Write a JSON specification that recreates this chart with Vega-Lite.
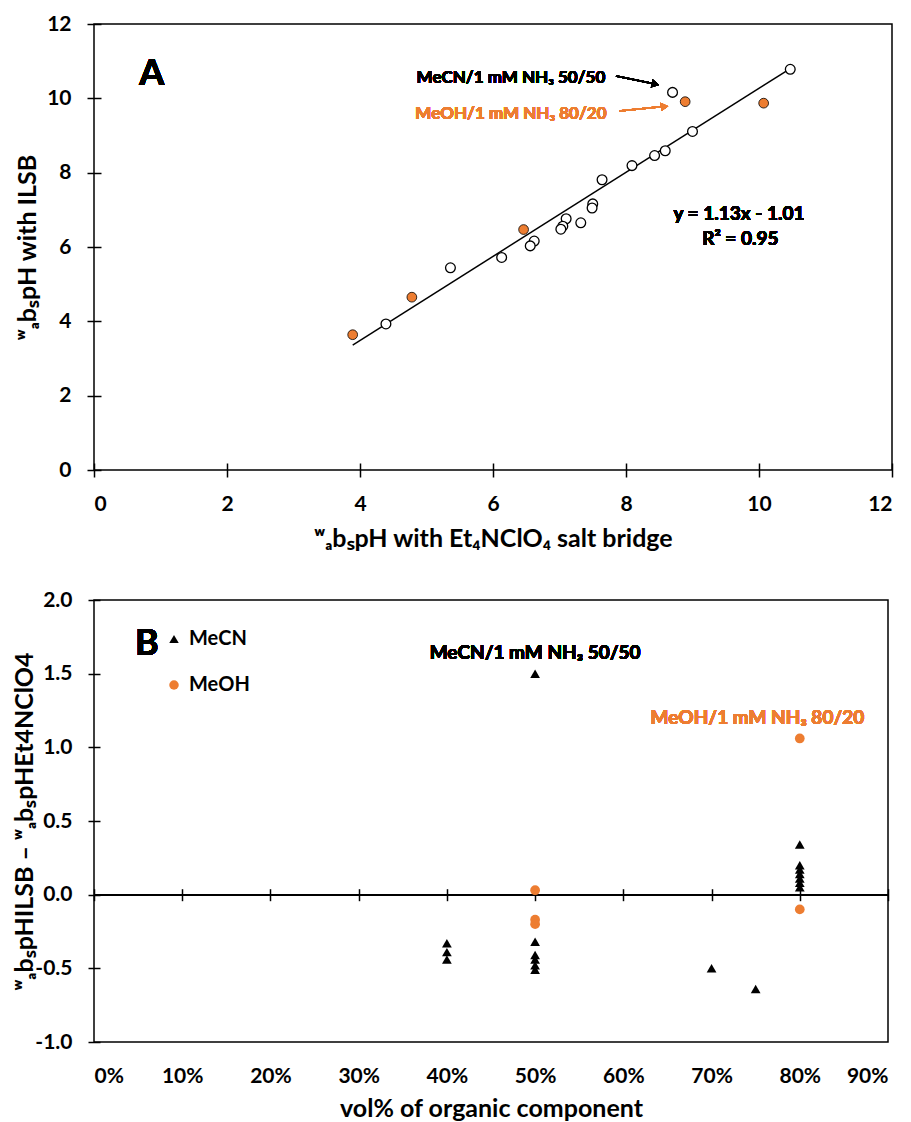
{
  "$schema": "https://vega.github.io/schema/vega-lite/v6.json",
  "padding": {"left": 12, "top": 12, "right": 5, "bottom": 0},
  "columns": 1,
  "align": "all",
  "spacing": 36,
  "config": {
    "font": "Lato",
    "view": {"stroke": "black", "strokeWidth": 1.5},
    "axis": {"labelFont": "Lato", "labelFontWeight": "bold", "labelFontSize": 21, "labelColor": "black", "titleFont": "Lato", "titleFontWeight": "bold", "titleFontSize": 25, "titleColor": "black", "tickColor": "black", "tickWidth": 1.5, "grid": false, "domain": false},
    "text": {"font": "Lato", "fontWeight": "bold"},
    "locale": {"number": {"decimal": ".", "thousands": ",", "grouping": [3], "currency": ["$", ""], "minus": "-"}}
  },
  "resolve": {"scale": {"color": "independent", "shape": "independent"}, "legend": {"color": "independent", "shape": "independent"}},
  "datasets": {
    "panelA": [
      {"solvent": "MeCN", "x": 10.47, "y": 10.78},
      {"solvent": "MeCN", "x": 8.70, "y": 10.16},
      {"solvent": "MeCN", "x": 9.00, "y": 9.11},
      {"solvent": "MeCN", "x": 8.59, "y": 8.59},
      {"solvent": "MeCN", "x": 8.43, "y": 8.46},
      {"solvent": "MeCN", "x": 8.09, "y": 8.19},
      {"solvent": "MeCN", "x": 7.64, "y": 7.81},
      {"solvent": "MeCN", "x": 7.50, "y": 7.16},
      {"solvent": "MeCN", "x": 7.49, "y": 7.05},
      {"solvent": "MeCN", "x": 7.32, "y": 6.65},
      {"solvent": "MeCN", "x": 7.10, "y": 6.76},
      {"solvent": "MeCN", "x": 7.05, "y": 6.56},
      {"solvent": "MeCN", "x": 7.02, "y": 6.48},
      {"solvent": "MeCN", "x": 6.62, "y": 6.16},
      {"solvent": "MeCN", "x": 6.56, "y": 6.03},
      {"solvent": "MeCN", "x": 6.13, "y": 5.72},
      {"solvent": "MeCN", "x": 5.36, "y": 5.44},
      {"solvent": "MeCN", "x": 4.39, "y": 3.93},
      {"solvent": "MeOH", "x": 8.89, "y": 9.91},
      {"solvent": "MeOH", "x": 10.07, "y": 9.87},
      {"solvent": "MeOH", "x": 6.46, "y": 6.47},
      {"solvent": "MeOH", "x": 4.78, "y": 4.65},
      {"solvent": "MeOH", "x": 3.89, "y": 3.64}
    ],
    "panelB": [
      {"solvent": "MeCN", "vol": 0.4, "diff": -0.33},
      {"solvent": "MeCN", "vol": 0.4, "diff": -0.39},
      {"solvent": "MeCN", "vol": 0.4, "diff": -0.44},
      {"solvent": "MeCN", "vol": 0.5, "diff": 1.50},
      {"solvent": "MeCN", "vol": 0.5, "diff": -0.32},
      {"solvent": "MeCN", "vol": 0.5, "diff": -0.41},
      {"solvent": "MeCN", "vol": 0.5, "diff": -0.44},
      {"solvent": "MeCN", "vol": 0.5, "diff": -0.48},
      {"solvent": "MeCN", "vol": 0.5, "diff": -0.51},
      {"solvent": "MeCN", "vol": 0.7, "diff": -0.50},
      {"solvent": "MeCN", "vol": 0.75, "diff": -0.64},
      {"solvent": "MeCN", "vol": 0.8, "diff": 0.34},
      {"solvent": "MeCN", "vol": 0.8, "diff": 0.20},
      {"solvent": "MeCN", "vol": 0.8, "diff": 0.17},
      {"solvent": "MeCN", "vol": 0.8, "diff": 0.14},
      {"solvent": "MeCN", "vol": 0.8, "diff": 0.11},
      {"solvent": "MeCN", "vol": 0.8, "diff": 0.08},
      {"solvent": "MeCN", "vol": 0.8, "diff": 0.05},
      {"solvent": "MeOH", "vol": 0.5, "diff": 0.03},
      {"solvent": "MeOH", "vol": 0.5, "diff": -0.17},
      {"solvent": "MeOH", "vol": 0.5, "diff": -0.20},
      {"solvent": "MeOH", "vol": 0.8, "diff": 1.06},
      {"solvent": "MeOH", "vol": 0.8, "diff": -0.10}
    ]
  },
  "concat": [
    {
      "width": 798,
      "height": 446,
      "data": {"name": "panelA"},
      "encoding": {
        "x": {"field": "x", "type": "quantitative", "scale": {"domain": [0, 12], "nice": false},
          "axis": {"title": "ʷₐbₛpH with Et₄NClO₄ salt bridge", "values": [0, 2, 4, 6, 8, 10, 12], "format": "d", "offset": -7, "tickSize": 14, "labelPadding": 16, "titlePadding": 12}},
        "y": {"field": "y", "type": "quantitative", "scale": {"domain": [0, 12], "nice": false},
          "axis": {"title": "ʷₐbₛpH with ILSB", "values": [0, 2, 4, 6, 8, 10, 12], "format": "d", "offset": -7, "tickSize": 14, "labelPadding": 16, "titlePadding": 6}}
      },
      "layer": [
        {
          "transform": [{"regression": "y", "on": "x", "extent": [3.89, 10.47]}],
          "mark": {"type": "line", "color": "black", "strokeWidth": 1.5}
        },
        {
          "transform": [{"filter": "datum.solvent === 'MeCN'"}],
          "mark": {"type": "point", "shape": "circle", "filled": true, "fill": "white", "stroke": "black", "strokeWidth": 1.3, "size": 95, "opacity": 1}
        },
        {
          "transform": [{"filter": "datum.solvent === 'MeOH'"}],
          "mark": {"type": "point", "shape": "circle", "filled": true, "fill": "#ED7D31", "stroke": "black", "strokeWidth": 0.8, "size": 95, "opacity": 1}
        },
        {
          "mark": {"type": "text", "fontSize": 36, "fontWeight": "bold", "color": "black"},
          "encoding": {"x": {"datum": 0.87}, "y": {"datum": 10.65}, "text": {"value": "A"}}
        },
        {
          "mark": {"type": "text", "fontSize": 17, "fontWeight": "bold", "color": "black"},
          "encoding": {"x": {"datum": 6.27}, "y": {"datum": 10.55}, "text": {"value": "MeCN/1 mM NH₃ 50/50"}}
        },
        {
          "mark": {"type": "text", "fontSize": 17, "fontWeight": "bold", "color": "#ED7D31"},
          "encoding": {"x": {"datum": 6.27}, "y": {"datum": 9.58}, "text": {"value": "MeOH/1 mM NH₃ 80/20"}}
        },
        {
          "mark": {"type": "text", "fontSize": 19, "fontWeight": "bold", "color": "black"},
          "encoding": {"x": {"datum": 9.70}, "y": {"datum": 6.9}, "text": {"value": "y = 1.13x - 1.01"}}
        },
        {
          "mark": {"type": "text", "fontSize": 19, "fontWeight": "bold", "color": "black"},
          "encoding": {"x": {"datum": 9.72}, "y": {"datum": 6.21}, "text": {"value": "R² = 0.95"}}
        },
        {
          "mark": {"type": "rule", "color": "black", "strokeWidth": 1.5},
          "encoding": {"x": {"datum": 7.85}, "y": {"datum": 10.60}, "x2": {"datum": 8.42}, "y2": {"datum": 10.39}}
        },
        {
          "mark": {"type": "point", "shape": "triangle-right", "filled": true, "color": "black", "size": 70, "angle": 12, "opacity": 1},
          "encoding": {"x": {"datum": 8.44}, "y": {"datum": 10.38}}
        },
        {
          "mark": {"type": "rule", "color": "#ED7D31", "strokeWidth": 1.5},
          "encoding": {"x": {"datum": 7.90}, "y": {"datum": 9.66}, "x2": {"datum": 8.56}, "y2": {"datum": 9.78}}
        },
        {
          "mark": {"type": "point", "shape": "triangle-right", "filled": true, "color": "#ED7D31", "size": 70, "angle": -6, "opacity": 1},
          "encoding": {"x": {"datum": 8.58}, "y": {"datum": 9.78}}
        }
      ]
    },
    {
      "width": 794,
      "height": 442,
      "data": {"name": "panelB"},
      "layer": [
        {
          "mark": {"type": "rule", "color": "black", "strokeWidth": 1.5},
          "encoding": {
            "x": {"datum": 0, "type": "quantitative", "scale": {"domain": [0, 0.9], "nice": false},
              "axis": {"title": null, "labels": false, "values": [0, 0.1, 0.2, 0.3, 0.4, 0.5, 0.6, 0.7, 0.8, 0.9], "orient": "bottom", "offset": -153.3, "tickSize": 12}},
            "x2": {"datum": 0.9},
            "y": {"datum": 0, "type": "quantitative"}
          }
        },
        {
          "mark": {"type": "point", "filled": true, "size": 95, "opacity": 1},
          "encoding": {
            "x": {"field": "vol", "type": "quantitative", "scale": {"domain": [0, 0.9], "nice": false},
              "axis": {"title": "vol% of organic component", "orient": "bottom", "values": [0, 0.1, 0.2, 0.3, 0.4, 0.5, 0.6, 0.7, 0.8, 0.9], "format": ".0%", "ticks": false, "tickSize": 0, "labelPadding": 23, "titlePadding": 10}},
            "y": {"field": "diff", "type": "quantitative", "scale": {"domain": [-1, 2], "nice": false},
              "axis": {"title": "ʷₐbₛpHILSB – ʷₐbₛpHEt4NClO4", "values": [-1, -0.5, 0, 0.5, 1, 1.5, 2], "format": ".1f", "offset": -6, "tickSize": 12, "labelPadding": 16, "titlePadding": -3}},
            "color": {"field": "solvent", "type": "nominal", "scale": {"domain": ["MeCN", "MeOH"], "range": ["black", "#ED7D31"]},
              "legend": {"orient": "none", "legendX": 70, "legendY": 29, "title": null, "labelFont": "Lato", "labelFontWeight": "bold", "labelFontSize": 20, "labelColor": "black", "symbolSize": 90, "rowPadding": 26, "labelOffset": 5, "symbolStrokeWidth": 0}},
            "shape": {"field": "solvent", "type": "nominal", "scale": {"domain": ["MeCN", "MeOH"], "range": ["triangle-up", "circle"]}}
          }
        },
        {
          "mark": {"type": "text", "fontSize": 36, "fontWeight": "bold", "color": "black"},
          "encoding": {"x": {"datum": 0.06, "axis": null}, "y": {"datum": 1.70}, "text": {"value": "B"}}
        },
        {
          "mark": {"type": "text", "fontSize": 19, "fontWeight": "bold", "color": "black"},
          "encoding": {"x": {"datum": 0.5, "axis": null}, "y": {"datum": 1.64}, "text": {"value": "MeCN/1 mM NH₃ 50/50"}}
        },
        {
          "mark": {"type": "text", "fontSize": 19, "fontWeight": "bold", "color": "#ED7D31"},
          "encoding": {"x": {"datum": 0.752, "axis": null}, "y": {"datum": 1.20}, "text": {"value": "MeOH/1 mM NH₃ 80/20"}}
        }
      ],
      "resolve": {"axis": {"x": "independent"}}
    }
  ]
}
